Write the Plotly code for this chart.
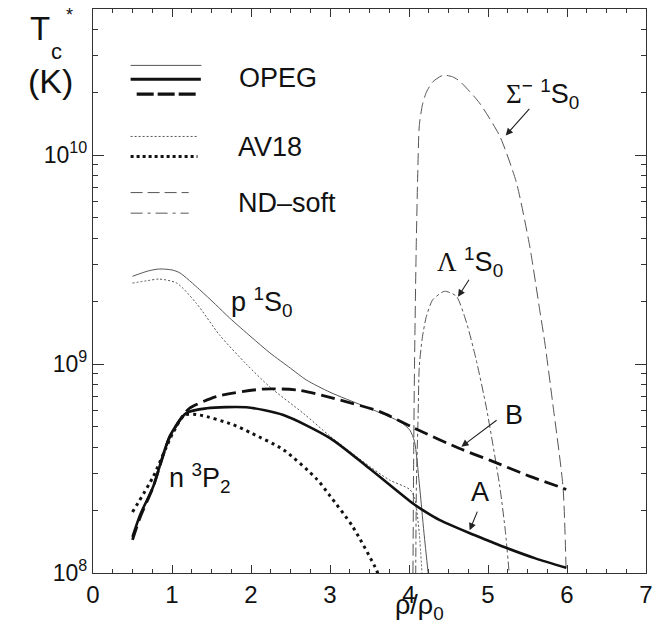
import plotly.graph_objects as go

# ---------------- data ----------------
# proton 1S0, OPEG (thin solid)
p1s0_opeg_x = [0.50, 0.70, 0.84, 1.00, 1.10, 1.35, 1.55, 1.73, 2.00, 2.24, 2.50, 2.70, 3.00, 3.42, 3.75, 3.90, 4.01, 4.07, 4.13, 4.19, 4.245]
p1s0_opeg_T = [2.63e9, 2.79e9, 2.85e9, 2.82e9, 2.73e9, 2.27e9, 1.93e9, 1.66e9, 1.35e9, 1.13e9, 9.55e8, 8.39e8, 7.33e8, 6.31e8, 5.60e8, 5.25e8, 4.83e8, 4.25e8, 2.69e8, 1.55e8, 0.98e8]

# proton 1S0, AV18 (thin dotted)
p1s0_av18_x = [0.50, 0.70, 0.84, 1.06, 1.31, 1.60, 1.94, 2.24, 2.66, 3.00, 3.50, 3.75, 4.01, 4.07, 4.13, 4.165]
p1s0_av18_T = [2.44e9, 2.51e9, 2.55e9, 2.44e9, 1.95e9, 1.38e9, 1.00e9, 7.76e8, 5.82e8, 4.52e8, 3.24e8, 2.79e8, 2.51e8, 2.29e8, 1.55e8, 0.98e8]

# neutron 3P2, OPEG curve A (thick solid)
n3p2_a_x = [0.50, 0.60, 0.76, 0.97, 1.18, 1.44, 1.94, 2.41, 3.00, 3.50, 4.05, 4.22, 4.39, 4.77, 5.02, 5.23, 5.60, 5.99]
n3p2_a_T = [1.49e8, 1.91e8, 2.58e8, 4.49e8, 5.82e8, 6.14e8, 6.21e8, 5.70e8, 4.42e8, 3.16e8, 2.15e8, 1.95e8, 1.79e8, 1.55e8, 1.42e8, 1.32e8, 1.175e8, 1.06e8]

# neutron 3P2, OPEG curve B (thick dashed)
n3p2_b_x = [0.50, 0.60, 0.76, 0.97, 1.15, 1.22, 1.56, 2.15, 2.60, 3.00, 3.63, 4.07, 4.64, 5.02, 5.53, 5.91, 5.99]
n3p2_b_T = [1.44e8, 1.86e8, 2.57e8, 4.47e8, 5.75e8, 6.14e8, 6.98e8, 7.59e8, 7.50e8, 6.92e8, 5.92e8, 4.93e8, 3.94e8, 3.47e8, 2.90e8, 2.58e8, 2.51e8]

# neutron 3P2, AV18 (thick dotted)
n3p2_av18_x = [0.50, 0.76, 1.01, 1.16, 1.35, 1.77, 2.00, 2.41, 2.83, 3.00, 3.29, 3.59, 3.62]
n3p2_av18_T = [1.96e8, 2.88e8, 4.67e8, 5.70e8, 5.70e8, 5.13e8, 4.68e8, 3.89e8, 2.82e8, 2.34e8, 1.66e8, 1.03e8, 0.95e8]

# Sigma- 1S0, ND-soft (long dash)
sigma_x = [4.05, 4.06, 4.07, 4.09, 4.11, 4.13, 4.17, 4.22, 4.30, 4.43, 4.55, 4.64, 4.89, 5.15, 5.36, 5.53, 5.65, 5.72, 5.82, 5.95, 5.99]
sigma_T = [1.0e8, 3.98e8, 1.0e9, 3.39e9, 7.94e9, 1.38e10, 1.74e10, 2.0e10, 2.24e10, 2.41e10, 2.37e10, 2.26e10, 1.78e10, 1.23e10, 7.38e9, 3.63e9, 1.86e9, 1.26e9, 6.46e8, 2.57e8, 0.98e8]

# Lambda 1S0, ND-soft (dash-dot)
lambda_x = [4.085, 4.094, 4.115, 4.13, 4.17, 4.22, 4.30, 4.45, 4.60, 4.73, 4.85, 4.98, 5.15, 5.22, 5.27]
lambda_T = [0.98e8, 2.69e8, 5.60e8, 9.73e8, 1.35e9, 1.69e9, 2.03e9, 2.23e9, 2.11e9, 1.57e9, 1.05e9, 6.17e8, 2.58e8, 1.58e8, 0.98e8]

x_ticks = [0, 1, 2, 3, 4, 5, 6, 7]
y_ticks = [1e8, 1e9, 1e10]
y_ticktext = ["10<sup>8</sup>", "10<sup>9</sup>", "10<sup>10</sup>"]

# ---------------- figure ----------------
SANS = "Liberation Sans, Arial, sans-serif"
THIN = "#555555"
BLACK = "#111111"

fig = go.Figure()

def add(x, y, color, width, dash, smooth=0.7):
    fig.add_trace(go.Scatter(x=x, y=y, mode="lines", showlegend=False, hoverinfo="skip",
                             line=dict(color=color, width=width, dash=dash,
                                       shape="spline", smoothing=smooth)))

add(p1s0_opeg_x, p1s0_opeg_T, THIN, 1.0, "solid")
add(p1s0_av18_x, p1s0_av18_T, THIN, 1.0, "2px,2px")
add(sigma_x, sigma_T, THIN, 1.0, "12px,5px", 0.6)
add(lambda_x, lambda_T, THIN, 1.0, "9px,3px,3px,3px", 0.6)
add(n3p2_a_x, n3p2_a_T, BLACK, 2.6, "solid")
add(n3p2_b_x, n3p2_b_T, BLACK, 2.8, "14px,6px")
add(n3p2_av18_x, n3p2_av18_T, BLACK, 3.0, "3px,4px")

# legend keys (drawn as shapes in paper coordinates)
def key(x0, x1, y, color, width, dash):
    fig.add_shape(type="line", xref="paper", yref="paper", x0=x0, x1=x1, y0=y, y1=y,
                  line=dict(color=color, width=width, dash=dash))

key(0.068, 0.196, 0.900, THIN, 1.0, "solid")
key(0.068, 0.195, 0.8754, BLACK, 3.2, "solid")
key(0.079, 0.186, 0.849, BLACK, 3.2, "17px,4px")
key(0.068, 0.189, 0.774, THIN, 1.0, "2px,2px")
key(0.068, 0.189, 0.7384, BLACK, 3.0, "3px,3px")
key(0.068, 0.173, 0.6745, THIN, 1.0, "12px,5px")
key(0.068, 0.173, 0.638, THIN, 1.0, "12px,5px,3px,5px")

ann = []
def text(x, y, s, size=27, xref="x", yref="y", xanchor="center", yanchor="middle"):
    ann.append(dict(x=x, y=y, xref=xref, yref=yref, text=s, showarrow=False,
                    xanchor=xanchor, yanchor=yanchor,
                    font=dict(family=SANS, size=size, color=BLACK)))

def arrow(x, y, ax, ay):
    ann.append(dict(x=x, y=y, xref="x", yref="y", ax=ax, ay=ay, text="",
                    showarrow=True, arrowhead=2, arrowsize=1.3, arrowwidth=1.1,
                    arrowcolor="#222222"))

# legend labels
text(0.2595, 0.878, "OPEG", 27, "paper", "paper", "left")
text(0.258, 0.7547, "AV18", 27, "paper", "paper", "left")
text(0.258, 0.656, "ND\u2013soft", 27, "paper", "paper", "left")

# curve labels
text(5.69, 10.291, '<span style="font-family:Liberation Serif">\u03a3</span><sup>\u2212</sup> <sup>1</sup>S<sub>0</sub>', 27)
text(4.77, 9.49, '<span style="font-family:Liberation Serif">\u039b</span> <sup>1</sup>S<sub>0</sub>', 27)
text(5.334, 8.756, "B", 27)
text(4.895, 8.387, "A", 27)
text(2.135, 9.298, "p <sup>1</sup>S<sub>0</sub>", 27)
text(1.35, 8.454, "n <sup>3</sup>P<sub>2</sub>", 27)

arrow(5.224, 10.094, 25, -28)
arrow(4.62, 9.322, 12, -18.5)
arrow(4.663, 8.604, 36.7, -27.7)
arrow(4.768, 8.205, 8.3, -20)

# axis titles
text(-0.0964, 0.965, "T", 33, "paper", "paper")
text(-0.0657, 0.924, "c", 22, "paper", "paper")
text(-0.042, 0.990, "*", 18, "paper", "paper")
text(-0.0765, 0.872, "(K)", 34, "paper", "paper")
text(4.135, -0.060, "\u03c1/\u03c1<sub>0</sub>", 27, "x", "paper")

fig.update_layout(
    width=654, height=624,
    margin=dict(l=93, r=8, t=9, b=51, autoexpand=False),
    paper_bgcolor="white", plot_bgcolor="white",
    annotations=ann,
    font=dict(family=SANS, color=BLACK),
)

fig.update_xaxes(
    range=[0, 7], tickvals=x_ticks, ticks="inside", ticklen=8, tickwidth=1.2,
    tickcolor="#333333", showline=True, linecolor="#333333", linewidth=1.3,
    mirror="ticks", showgrid=False, zeroline=False, automargin=False,
    tickfont=dict(family=SANS, size=24, color=BLACK),
    minor=dict(dtick=0.25, ticks="inside", ticklen=4, tickwidth=1, tickcolor="#333333", showgrid=False),
)
fig.update_yaxes(
    type="log", range=[8, 10.699], tickvals=y_ticks, ticktext=y_ticktext,
    ticks="inside", ticklen=11, tickwidth=1.2, tickcolor="#333333",
    showline=True, linecolor="#333333", linewidth=1.3, mirror="ticks",
    showgrid=False, zeroline=False, automargin=False,
    tickfont=dict(family=SANS, size=23, color=BLACK),
    minor=dict(dtick="D1", ticks="inside", ticklen=5, tickwidth=1, tickcolor="#333333", showgrid=False),
)

fig.write_html("out.html")
